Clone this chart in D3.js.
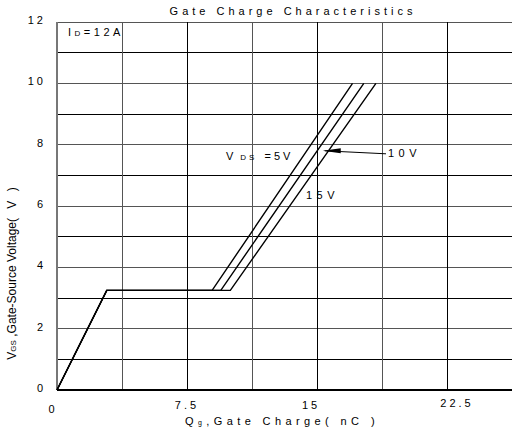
<!DOCTYPE html>
<html>
<head>
<meta charset="utf-8">
<script src="https://cdn.jsdelivr.net/npm/d3@7"></script>
<style>
    body { margin: 0; background: #fff; }
    svg { display: block; font-family: "Liberation Sans", Arial, sans-serif; }
    .sp { letter-spacing: 3px; }
</style>
</head>
<body>
<div id="chart"></div>
<script>
(function(d3) {
    'use strict';

    // series: V_DS values, gate charge (nC) vs V_GS (V)
    var seriesNames = ['5 V', '10 V', '15 V'];
    var qgCurves = [
        [0, 2.87, 8.95, 17.05],
        [0, 2.87, 9.45, 17.7],
        [0, 2.87, 10.0, 18.4]
    ];
    var vgsCurves = [
        [0, 3.25, 3.25, 10],
        [0, 3.25, 3.25, 10],
        [0, 3.25, 3.25, 10]
    ];
    var xTicks = [0, 7.5, 15, 22.5];
    var xTickLabels = ['0', '7.5', '15', '22.5'];
    var yTicks = [0, 2, 4, 6, 8, 10, 12];
    var yTickLabels = ['0', '2', '4', '6', '8', '10', '12'];

    var W = 512, H = 432;
    var x = d3.scaleLinear().domain([0, 30]).range([57, 577]);
    var y = d3.scaleLinear().domain([0, 12]).range([390, 22]);

    var svg = d3.select('#chart').append('svg')
        .attr('width', W)
        .attr('height', H);

    var grid = svg.append('g').attr('shape-rendering', 'crispEdges');

    grid.selectAll('.hl')
        .data(d3.range(0, 13, 1))
        .enter().append('line')
        .attr('x1', x(0)).attr('x2', W)
        .attr('y1', function(d) { return y(d); })
        .attr('y2', function(d) { return y(d); })
        .attr('stroke', function(d, i) { return i % 2 ? '#000' : '#555'; })
        .attr('stroke-width', 1);

    grid.selectAll('.vl')
        .data(d3.range(3.75, 30, 3.75))
        .enter().append('line')
        .attr('y1', y(0)).attr('y2', y(12))
        .attr('x1', function(d) { return x(d); })
        .attr('x2', function(d) { return x(d); })
        .attr('stroke', function(d, i) { return i % 2 ? '#000' : '#555'; })
        .attr('stroke-width', 1);

    // left and bottom borders
    grid.append('line')
        .attr('x1', x(0)).attr('x2', x(0))
        .attr('y1', y(0)).attr('y2', y(12))
        .attr('stroke', '#777').attr('stroke-width', 2);
    grid.append('line')
        .attr('x1', x(0)).attr('x2', W)
        .attr('y1', y(0)).attr('y2', y(0))
        .attr('stroke', '#000').attr('stroke-width', 1.5);

    // curves
    var line = d3.line()
        .x(function(d) { return x(d[0]); })
        .y(function(d) { return y(d[1]); });

    svg.selectAll('.curve')
        .data(seriesNames.map(function(name, i) {
            return d3.zip(qgCurves[i], vgsCurves[i]);
        }))
        .enter().append('path')
        .attr('class', 'curve')
        .attr('d', line)
        .attr('fill', 'none')
        .attr('stroke', '#000')
        .attr('stroke-width', 1.4);

    // tick labels
    svg.selectAll('.yt')
        .data(yTicks)
        .enter().append('text')
        .attr('class', 'sp')
        .attr('x', 46)
        .attr('y', function(d) { return y(d) + 2; })
        .attr('text-anchor', 'end')
        .attr('font-size', 11)
        .text(function(d, i) { return yTickLabels[i]; });

    var xOff = [-4, 0, -6, 10];
    var yOff = [405, 401, 401, 399];
    svg.selectAll('.xt')
        .data(xTicks)
        .enter().append('text')
        .attr('class', 'sp')
        .attr('x', function(d, i) { return x(d) + xOff[i]; })
        .attr('y', function(d, i) { return yOff[i] + 8; })
        .attr('text-anchor', 'middle')
        .attr('font-size', 11)
        .text(function(d, i) { return xTickLabels[i]; });

    // title
    svg.append('text')
        .attr('x', 293).attr('y', 15)
        .attr('text-anchor', 'middle')
        .attr('font-size', 11)
        .attr('letter-spacing', 4)
        .text('Gate Charge Characteristics');

    // x axis label
    var xl = svg.append('text')
        .attr('x', 282).attr('y', 425)
        .attr('text-anchor', 'middle')
        .attr('font-size', 11)
        .attr('letter-spacing', 4.4);
    xl.append('tspan').text('Q');
    xl.append('tspan').attr('font-size', 7).text('g');
    xl.append('tspan').text(',Gate Charge( nC )');

    // y axis label
    var yl = svg.append('text')
        .attr('transform', 'translate(16,272) rotate(-90)')
        .attr('text-anchor', 'middle')
        .attr('font-size', 12);
    yl.append('tspan').text('V');
    yl.append('tspan').attr('font-size', 8).text('GS');
    yl.append('tspan').text(' ,Gate-Source Voltage');
    yl.append('tspan').attr('letter-spacing', 3).text('( V )');

    // I_D annotation
    var id = svg.append('text')
        .attr('x', 68).attr('y', 36)
        .attr('font-size', 11)
        .attr('letter-spacing', 3.5);
    id.append('tspan').text('I');
    id.append('tspan').attr('font-size', 8).text('D');
    id.append('tspan').text('=12A');

    // V_DS labels
    var v5 = svg.append('text')
        .attr('class', 'sp')
        .attr('x', 226).attr('y', 160)
        .attr('font-size', 11);
    v5.append('tspan').text('V');
    v5.append('tspan').attr('font-size', 8).attr('dx', 4).text('DS');
    v5.append('tspan').attr('dx', 7).text('=5V');

    svg.append('text')
        .attr('x', 388).attr('y', 157)
        .attr('font-size', 11)
        .attr('letter-spacing', 4.5)
        .text('10V');

    svg.append('text')
        .attr('x', 306).attr('y', 199)
        .attr('font-size', 11)
        .attr('letter-spacing', 4.5)
        .text('15V');

    // arrow to the 10 V curve
    var ax = x(15.1), ay = y(7.8);
    svg.append('line')
        .attr('x1', ax + 6).attr('y1', ay)
        .attr('x2', 386).attr('y2', ay + 3)
        .attr('stroke', '#000').attr('stroke-width', 1);
    svg.append('path')
        .attr('d', 'M' + (ax + 4) + ',' + (ay) + ' L' + (ax + 22) + ',' + (ay - 2.5) + ' L' + (ax + 22) + ',' + (ay + 2.5) + ' Z')
        .attr('fill', '#000');

})(window.d3);
</script>
</body>
</html>
